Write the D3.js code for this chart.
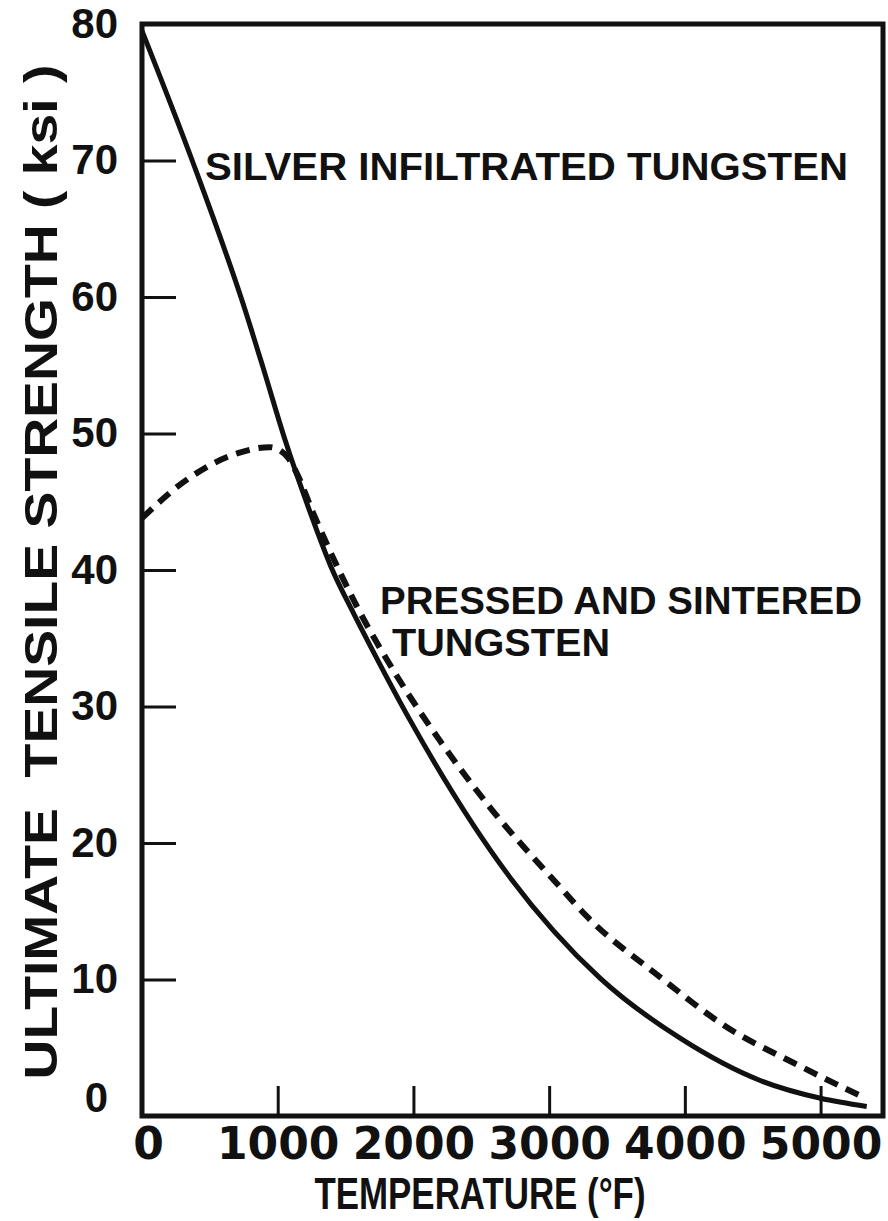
<!DOCTYPE html>
<html>
<head>
<meta charset="UTF-8">
<style>
  html, body { margin: 0; padding: 0; background: #fff; }
  svg { display: block; }
  text { fill: #111; }
</style>
</head>
<body>
<svg id="chart" width="888" height="1221"></svg>
<script src="https://cdn.jsdelivr.net/npm/d3@7"></script>
<script>
// silver infiltrated tungsten (solid)
const silverTemp = [0, 370, 745, 890, 1055, 1240, 1390, 1560, 1700, 1975, 2710, 3375, 3965, 4555, 5000, 5340];
const silverKsi  = [79.5, 70.0, 59.5, 54.9, 49.5, 44.2, 40.3, 36.8, 34.1, 29.0, 17.5, 10.1, 5.7, 2.6, 1.3, 0.7];

// pressed and sintered tungsten (dashed)
const pressedTemp = [0, 300, 720, 940, 1070, 1140, 1260, 1460, 1585, 1880, 2195, 2565, 3060, 3280, 3815, 4310, 4800, 5310];
const pressedKsi  = [43.8, 46.4, 48.6, 49.0, 48.3, 47.1, 44.2, 39.8, 37.3, 32.2, 27.5, 22.6, 17.0, 14.6, 10.2, 6.5, 3.9, 1.4];

const xTicks = [0, 1000, 2000, 3000, 4000, 5000];
const yTicks = [0, 10, 20, 30, 40, 50, 60, 70, 80];

const svg = d3.select("#chart");

const x = d3.scaleLinear().domain([0, 5460]).range([142, 883]);
const y = d3.scaleLinear().domain([0, 80]).range([1116, 24]);

const ink = "#111";
const numFont = "'DejaVu Sans', sans-serif";
const txtFont = "'Liberation Sans', Arial, sans-serif";

// frame
svg.append("rect")
    .attr("x", x(0)).attr("y", y(80))
    .attr("width", x(5460) - x(0)).attr("height", y(0) - y(80))
    .attr("fill", "none").attr("stroke", ink).attr("stroke-width", 5);

// y axis, ticks pointing inward
const yAxis = svg.append("g")
    .attr("transform", `translate(${x(0)},0)`)
    .call(d3.axisLeft(y).tickValues(yTicks).tickSize(-34).tickPadding(24).tickFormat(d3.format("d")));
yAxis.select(".domain").remove();
yAxis.selectAll(".tick line").attr("stroke", ink).attr("stroke-width", 3);
yAxis.selectAll(".tick text")
    .attr("font-family", txtFont).attr("font-weight", "bold").attr("font-size", 42)
    .attr("fill", ink);
// the zero sits a bit off, as in the original
yAxis.selectAll(".tick text").filter(d => d === 0).attr("dx", -10).attr("dy", "-0.1em");
yAxis.selectAll(".tick line").filter(d => d === 0 || d === 80).remove();

// x axis, ticks pointing up
const xAxis = svg.append("g")
    .attr("transform", `translate(0,${y(0)})`)
    .call(d3.axisBottom(x).tickValues(xTicks).tickSize(-30).tickPadding(12).tickFormat(d3.format("d")));
xAxis.select(".domain").remove();
xAxis.selectAll(".tick line").attr("stroke", ink).attr("stroke-width", 3);
xAxis.selectAll(".tick line").filter(d => d === 0).remove();
xAxis.selectAll(".tick text")
    .attr("font-family", numFont).attr("font-weight", "bold").attr("font-size", 44)
    .attr("fill", ink);
xAxis.selectAll(".tick text").filter(d => d === 0).attr("dx", 6);

// curves
const line = d3.line()
    .x(d => x(d[0]))
    .y(d => y(d[1]))
    .curve(d3.curveMonotoneX);

svg.append("path")
    .datum(silverTemp.map((t, i) => [t, silverKsi[i]]))
    .attr("d", line)
    .attr("fill", "none").attr("stroke", ink).attr("stroke-width", 5);

svg.append("path")
    .datum(pressedTemp.map((t, i) => [t, pressedKsi[i]]))
    .attr("d", line)
    .attr("fill", "none").attr("stroke", ink).attr("stroke-width", 6)
    .attr("stroke-dasharray", "14,9");

// labels
const label = (txt, px, py, len, size) => svg.append("text")
    .attr("x", px).attr("y", py)
    .attr("font-family", txtFont).attr("font-weight", "bold").attr("font-size", size)
    .attr("textLength", len).attr("lengthAdjust", "spacingAndGlyphs")
    .text(txt);

label("SILVER INFILTRATED TUNGSTEN", 205, 180, 643, 38);
label("PRESSED AND SINTERED", 380, 614, 482, 38);
label("TUNGSTEN", 392, 656, 218, 38);

label("TEMPERATURE (°F)", 480, 1209, 331, 44).attr("text-anchor", "middle");

svg.append("text")
    .attr("transform", "translate(57,572) rotate(-90)")
    .attr("text-anchor", "middle")
    .attr("font-family", txtFont).attr("font-weight", "bold").attr("font-size", 46)
    .attr("textLength", 1015).attr("lengthAdjust", "spacingAndGlyphs")
    .style("white-space", "pre")
    .text("ULTIMATE  TENSILE STRENGTH ( ksi )");
</script>
</body>
</html>
